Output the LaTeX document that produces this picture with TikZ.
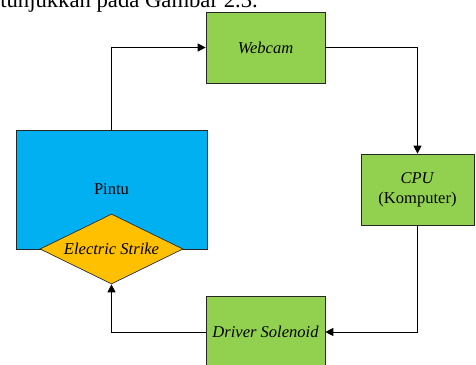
\documentclass[tikz,border=0pt]{standalone}
\usepackage{fontspec}
\setmainfont{Liberation Serif}
\usetikzlibrary{arrows.meta,shapes.geometric}

\definecolor{blockgreen}{HTML}{92D050}
\definecolor{doorblue}{HTML}{00B0F0}
\definecolor{strikeorange}{HTML}{FFC000}

\tikzset{
    block/.style={shape=rectangle,draw=black!85,line width=0.5pt,fill=blockgreen,
        minimum width=89.25pt,minimum height=53.25pt,inner sep=0pt,align=center,
        font=\fontsize{12.4}{15}\selectfont},
    link/.style={-{Triangle[length=6pt,width=6pt]},line width=0.75pt}
}

\begin{document}
\begin{tikzpicture}[x=0.75pt,y=-0.75pt]
            \useasboundingbox (0,0) rectangle (476,365);
            % text above the figure
            \node[anchor=base east,inner sep=0pt,font=\fontsize{17}{20}\selectfont] (caption) at (258,7.5) {ditunjukkan pada Gambar 2.3.};

            % blocks
            \node[block] (webcam) at (265.5,47.5) {\textit{Webcam}};
            \node[block,minimum width=84.75pt] (cpu) at (417.5,189.5) {\textit{CPU}\\(Komputer)};
            \node[block,minimum height=54pt] (driver) at (265.5,332) {\textit{Driver Solenoid}};
            \node[block,fill=doorblue,minimum width=143.25pt,minimum height=89.25pt] (pintu) at (111.5,189.5) {Pintu};
            \node[shape=diamond,draw=black!85,line width=0.5pt,fill=strikeorange,aspect=2,
                minimum width=107.25pt,minimum height=52.5pt,inner sep=0pt,
                font=\fontsize{12.4}{15}\selectfont] (strike) at (111.5,249) {\textit{Electric Strike}};

            % connectors
            \draw[link] (pintu.north) |- (webcam.west);
            \draw[link] (webcam.east) -| (cpu.north);
            \draw[link] (cpu.south) |- (driver.east);
            \draw[link] (driver.west) -| (strike.south);
\end{tikzpicture}
\end{document}
